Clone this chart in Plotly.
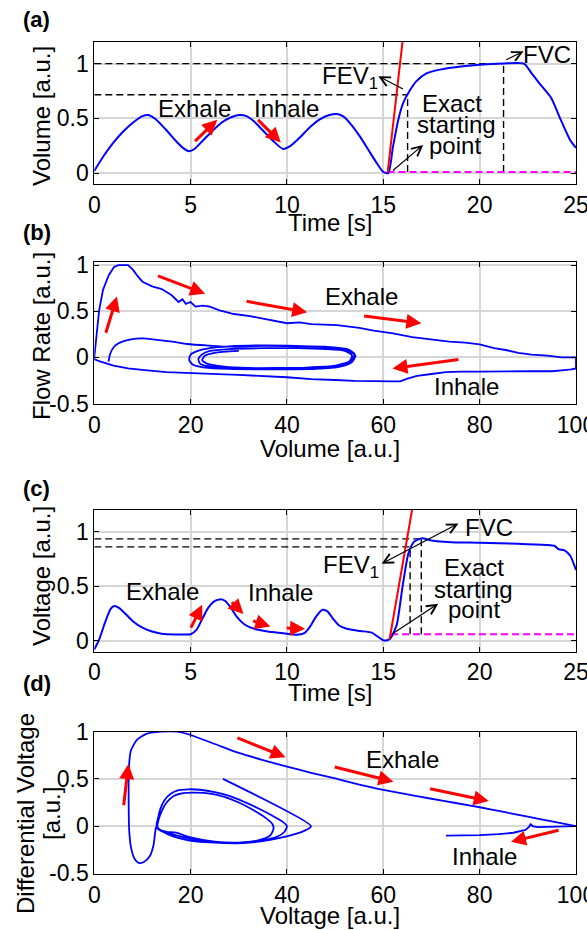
import plotly.graph_objects as go

W, H = 587, 930
FONT = "Liberation Sans, Arial, sans-serif"

# ---------------- (a) Volume vs time ----------------
a_time = [0, 0.5, 1, 1.5, 2, 2.5, 2.8, 3.2, 3.7, 4.2, 4.6, 4.9, 5.2, 5.6, 6.1, 6.6, 7.1, 7.5,
          7.9, 8.3, 8.8, 9.3, 9.8, 10.2, 10.7, 11.2, 11.7, 12.2, 12.6, 12.9, 13.3, 13.8, 14.3,
          14.7, 15.0, 15.26, 15.5, 15.78, 16.03, 16.29, 16.72, 17.24, 17.93, 19.14, 20.0, 21.2,
          22.3, 22.7, 23.1, 23.7, 24.2, 24.7, 25.0]
a_volume = [0.02, 0.16, 0.28, 0.38, 0.46, 0.52, 0.53, 0.49, 0.40, 0.30, 0.23, 0.20, 0.22, 0.29,
            0.38, 0.46, 0.51, 0.53, 0.52, 0.47, 0.38, 0.29, 0.22, 0.25, 0.33, 0.42, 0.49, 0.53,
            0.54, 0.52, 0.45, 0.33, 0.19, 0.08, 0.01, 0.0, 0.24, 0.49, 0.64, 0.73, 0.84, 0.91,
            0.945, 0.976, 0.99, 1.0, 1.0, 0.91, 0.82, 0.69, 0.49, 0.30, 0.23]
a_fit_time = [15.22, 16.0]
a_fit_volume = [0.0, 1.205]
a_fev1_time, a_fev1_level = 16.26, 0.716
a_fvc_time, a_fvc_level = 21.24, 1.0
a_start_time, a_base_level = 15.22, 0.01
a_red_arrows = [((5.15, 0.278), (6.38, 0.486)), ((8.42, 0.50), (9.68, 0.278))]

# ---------------- (b) Flow rate vs volume ----------------
b_exh_vol = [0, 0.3, 0.6, 1.0, 1.8, 3.0, 4.1, 5.0, 7.0, 8.0, 9.0, 10.0, 12.0, 14.0, 16.0, 17.5,
             18.3, 19.0, 20.0, 21.0, 22.5, 24.0, 26.0, 29.0, 32.0, 34.8, 38.0, 40.0, 42.6, 45.0,
             50.4, 55.0, 58.0, 62.0, 66.0, 70.0, 73.7, 77.0, 80.0, 83.0, 85.4, 88.0, 90.8, 94.0,
             97.0, 100.0, 100.0]
b_exh_flow = [0, 0.15, 0.3, 0.51, 0.73, 0.89, 0.98, 1.0, 1.0, 0.95, 0.88, 0.82, 0.77, 0.74, 0.675,
              0.6, 0.63, 0.58, 0.6, 0.55, 0.56, 0.55, 0.51, 0.47, 0.45, 0.42, 0.39, 0.37, 0.38,
              0.36, 0.35, 0.32, 0.29, 0.26, 0.22, 0.19, 0.17, 0.16, 0.14, 0.1, 0.08, 0.05, 0.03,
              0.02, 0.0, 0.0, -0.12]
b_inh_vol = [100, 99, 97, 95, 90, 85, 80, 76, 73, 70, 67, 65, 63.5, 62, 58, 54, 50, 45, 40, 35,
             30, 27, 24, 20, 15, 11, 7, 4, 2, 1, 0, 0]
b_inh_flow = [-0.12, -0.13, -0.14, -0.15, -0.15, -0.155, -0.155, -0.155, -0.16, -0.18, -0.2,
              -0.23, -0.26, -0.26, -0.26, -0.255, -0.245, -0.235, -0.215, -0.2, -0.19, -0.185,
              -0.18, -0.17, -0.16, -0.14, -0.12, -0.09, -0.06, -0.04, -0.02, 0.0]
b_tid_vol = [2.95, 3.3, 4.1, 5.3, 7.6, 10, 13, 16.2, 19.3, 24, 27, 35, 42, 48, 52, 54.2, 53.5, 51,
             46, 40, 34, 28, 23, 20.5, 19.7, 20, 21.5, 24, 28, 35, 42, 48, 52.5, 54, 53.5, 51,
             46, 40, 34, 28, 24, 22, 21.6, 22.3, 24, 28, 35, 42, 48, 52, 53.5, 53, 50, 44, 38,
             32, 27, 23.5, 22.4, 23, 25, 30]
b_tid_flow = [-0.047, 0.04, 0.115, 0.16, 0.195, 0.205, 0.19, 0.17, 0.145, 0.126, 0.116, 0.125,
              0.12, 0.11, 0.08, 0.02, -0.05, -0.1, -0.125, -0.13, -0.13, -0.125, -0.11, -0.08,
              -0.03, 0.03, 0.07, 0.1, 0.12, 0.13, 0.125, 0.115, 0.09, 0.04, -0.03, -0.08, -0.11,
              -0.12, -0.12, -0.115, -0.1, -0.07, -0.02, 0.03, 0.07, 0.09, 0.1, 0.1, 0.09, 0.07,
              0.02, -0.04, -0.09, -0.11, -0.115, -0.115, -0.1, -0.07, -0.03, 0.02, 0.05, 0.07]
b_red_arrows = [((2.3, 0.25), (4.7, 0.66)), ((12.9, 0.89), (23.0, 0.69)),
                ((31.3, 0.61), (44.2, 0.49)), ((55.7, 0.45), (67.9, 0.37)),
                ((75.9, -0.02), (61.9, -0.12))]

# ---------------- (c) Voltage vs time ----------------
c_time = [0, 0.25, 0.54, 0.84, 1.03, 1.3, 1.6, 2.0, 2.5, 3.0, 3.5, 4.2, 4.8, 5.0, 5.3, 5.6, 5.9,
          6.2, 6.5, 6.8, 7.1, 7.4, 7.8, 8.3, 9.0, 9.8, 10.5, 10.9, 11.2, 11.5, 11.85, 12.1, 12.4,
          12.7, 13.1, 13.8, 14.4, 14.7, 15.0, 15.2, 15.4, 15.7, 16.0, 16.3, 16.6, 17.0, 17.5,
          18.5, 20.0, 22.0, 23.5, 23.9, 24.1, 24.4, 24.7, 25.0]
c_voltage = [-0.08, 0.01, 0.16, 0.29, 0.32, 0.30, 0.25, 0.18, 0.12, 0.085, 0.065, 0.058, 0.058,
             0.06, 0.1, 0.2, 0.3, 0.36, 0.38, 0.365, 0.3, 0.22, 0.15, 0.11, 0.085, 0.07, 0.055,
             0.07, 0.13, 0.22, 0.285, 0.27, 0.2, 0.14, 0.11, 0.09, 0.075, 0.04, 0.005, 0.005,
             0.03, 0.15, 0.5, 0.8, 0.91, 0.94, 0.92, 0.905, 0.9, 0.89, 0.88, 0.87, 0.84, 0.83,
             0.78, 0.65]
c_fit_time = [15.32, 16.49]
c_fit_voltage = [0.01, 1.2]
c_fev1_time, c_fev1_level = 16.39, 0.862
c_fvc_time, c_fvc_level = 16.97, 0.935
c_start_time, c_base_level = 15.4, 0.061
c_red_arrows = [((4.98, 0.107), (5.6, 0.33)), ((7.06, 0.368), (7.74, 0.245)),
                ((8.16, 0.187), (9.14, 0.132)), ((9.91, 0.117), (10.94, 0.11))]

# ---------------- (d) Differential voltage vs voltage ----------------
d_loop_v = [26.7, 45, 44, 42, 39, 35, 31, 27, 23, 19.5, 17, 15, 13.5, 12.9, 13.2, 13.7, 14.5,
            15.8, 17.5, 19.5, 22, 25, 28, 31, 34, 37, 39, 40, 39.5, 38, 35, 31, 27, 23, 19.5,
            16.5, 14, 13.1, 13.3, 14, 15, 16.5, 18.5, 21, 24, 27, 30, 33, 35.5, 37, 37.2, 36.5,
            34, 30, 25, 20, 17, 15, 13.5, 12.8]
d_loop_dv = [0.5, 0.0, -0.04, -0.08, -0.12, -0.16, -0.18, -0.18, -0.17, -0.15, -0.12, -0.08,
             -0.04, 0.0, 0.08, 0.18, 0.27, 0.34, 0.38, 0.39, 0.385, 0.36, 0.32, 0.26, 0.19, 0.11,
             0.05, 0.0, -0.06, -0.11, -0.15, -0.175, -0.18, -0.165, -0.13, -0.09, -0.05, -0.01,
             0.06, 0.16, 0.25, 0.32, 0.35, 0.355, 0.345, 0.31, 0.25, 0.17, 0.09, 0.02, -0.03,
             -0.1, -0.15, -0.175, -0.165, -0.12, -0.07, -0.06, -0.04, -0.01]
d_exh_v = [12.8, 12.6, 12.3, 11.5, 10.3, 9.2, 8.3, 7.6, 7.25, 7.15, 7.2, 7.6, 8.8, 10.7, 13.8,
           17.3, 20, 25, 30, 35, 40, 45, 50, 55, 60, 65, 70, 75, 80, 85, 90, 95, 100]
d_exh_dv = [-0.01, -0.08, -0.2, -0.32, -0.38, -0.39, -0.34, -0.22, -0.05, 0.15, 0.63, 0.8, 0.91,
            0.975, 1.0, 1.0, 0.965, 0.87, 0.775, 0.70, 0.63, 0.565, 0.505, 0.44, 0.385, 0.335,
            0.29, 0.245, 0.2, 0.15, 0.10, 0.05, 0.0]
d_inh_v = [100, 97, 94, 92, 91, 90.6, 90.2, 89.5, 87, 84, 80, 76, 73]
d_inh_dv = [0.0, -0.005, -0.01, -0.01, 0.0, 0.02, -0.01, -0.04, -0.07, -0.085, -0.095, -0.1, -0.1]
d_red_arrows = [((6.07, 0.205), (7.08, 0.657)), ((29.4, 0.94), (39.7, 0.73)),
                ((49.6, 0.63), (62.1, 0.47)), ((69.4, 0.40), (81.9, 0.265)),
                ((96.7, -0.04), (86.5, -0.166))]

# ---------------- layout helpers ----------------
BLUE = "blue"
PANELS = {  # pixel boxes (left, right, top, bottom)
    1: (94.3, 576.0, 41.7, 184.0),
    2: (94.3, 576.0, 262.3, 404.0),
    3: (94.3, 576.0, 510.0, 651.7),
    4: (94.3, 576.0, 731.7, 874.0),
}


def px(xp):
    return xp / W


def py(yp):
    return 1 - yp / H


fig = go.Figure()


def ref(i):
    return ("x", "y") if i == 1 else (f"x{i}", f"y{i}")


def line(i, xs, ys, color, width, dash=None, shape="linear"):
    xr, yr = ref(i)
    fig.add_trace(go.Scatter(x=xs, y=ys, mode="lines", xaxis=xr, yaxis=yr,
                             line=dict(color=color, width=width, dash=dash, shape=shape,
                                       smoothing=0.6 if shape == "spline" else None),
                             hoverinfo="skip", showlegend=False))


DASH = "7px,4px"

# (a)
line(1, [0, a_fvc_time], [a_fvc_level, a_fvc_level], "black", 1.4, DASH)
line(1, [a_fvc_time, a_fvc_time], [a_base_level, a_fvc_level], "black", 1.4, DASH)
line(1, [0, a_fev1_time], [a_fev1_level, a_fev1_level], "black", 1.4, DASH)
line(1, [a_fev1_time, a_fev1_time], [a_base_level, a_fev1_level], "black", 1.4, DASH)
line(1, [a_start_time, 25], [a_base_level, a_base_level], "magenta", 2, DASH)
line(1, a_time, a_volume, BLUE, 2, shape="spline")
line(1, a_fit_time, a_fit_volume, "red", 2)

# (b)
line(2, b_tid_vol, b_tid_flow, BLUE, 1.8, shape="spline")
line(2, b_inh_vol, b_inh_flow, BLUE, 1.8)
line(2, b_exh_vol, b_exh_flow, BLUE, 1.8)

# (c)
line(3, [0, c_fvc_time], [c_fvc_level, c_fvc_level], "black", 1.4, DASH)
line(3, [c_fvc_time, c_fvc_time], [c_base_level, c_fvc_level], "black", 1.4, DASH)
line(3, [0, c_fev1_time], [c_fev1_level, c_fev1_level], "black", 1.4, DASH)
line(3, [c_fev1_time, c_fev1_time], [c_base_level, c_fev1_level], "black", 1.4, DASH)
line(3, [c_start_time, 25], [c_base_level, c_base_level], "magenta", 2, DASH)
line(3, c_time, c_voltage, BLUE, 2, shape="spline")
line(3, c_fit_time, c_fit_voltage, "red", 2)

# (d)
line(4, d_loop_v, d_loop_dv, BLUE, 1.8, shape="spline")
line(4, d_exh_v, d_exh_dv, BLUE, 1.8, shape="spline")
line(4, d_inh_v, d_inh_dv, BLUE, 1.8)

# ---------------- axes ----------------
TICKFONT = dict(family=FONT, size=23, color="black")


def axis_common():
    return dict(showline=True, linecolor="black", linewidth=1, mirror="ticks",
                ticks="inside", ticklen=5, tickcolor="black", tickwidth=1,
                showgrid=True, gridcolor="#d6d6d6", gridwidth=1.5, zeroline=False,
                tickfont=TICKFONT, fixedrange=True, ticklabeloverflow="allow",
                automargin=False)


x_specs = {
    1: ([0, 25], [0, 5, 10, 15, 20, 25]),
    2: ([0, 100], [0, 20, 40, 60, 80, 100]),
    3: ([0, 25], [0, 5, 10, 15, 20, 25]),
    4: ([0, 100], [0, 20, 40, 60, 80, 100]),
}
y_specs = {
    1: ([-0.1, 1.2], [0, 0.5, 1], ["0", "0.5", "1"]),
    2: ([-0.505, 1.03], [-0.5, 0, 0.5, 1], ["-0.5", "0", "0.5", "1"]),
    3: ([-0.1, 1.2], [0, 0.5, 1], ["0", "0.5", "1"]),
    4: ([-0.507, 1.0], [-0.5, 0, 0.5, 1], ["-0.5", "0", "0.5", "1"]),
}
layout_axes = {}
for i, (l, r, t, b) in PANELS.items():
    xname = "xaxis" if i == 1 else f"xaxis{i}"
    yname = "yaxis" if i == 1 else f"yaxis{i}"
    xr, yr = ref(i)
    xa = axis_common()
    xa.update(domain=[px(l), px(r)], range=x_specs[i][0], tickvals=x_specs[i][1],
              ticktext=[str(v) for v in x_specs[i][1]], anchor=yr)
    ya = axis_common()
    ya.update(domain=[py(b), py(t)], range=y_specs[i][0], tickvals=y_specs[i][1],
              ticktext=y_specs[i][2], anchor=xr)
    layout_axes[xname] = xa
    layout_axes[yname] = ya

fig.update_layout(width=W, height=H, margin=dict(l=0, r=0, t=0, b=0, autoexpand=False),
                  paper_bgcolor="white", plot_bgcolor="white", showlegend=False,
                  font=dict(family=FONT, size=24, color="black"), **layout_axes)

# ---------------- annotations ----------------
ann = []
TXT = dict(family=FONT, size=24, color="black")


def text(i, x, y, s, **kw):
    xr, yr = ref(i)
    d = dict(x=x, y=y, xref=xr, yref=yr, text=s, showarrow=False, font=TXT,
             xanchor="center", yanchor="middle")
    d.update(kw)
    ann.append(d)


def arrow(i, tail, head, color="red", width=3, head_style=2, size=1.0, side="end"):
    xr, yr = ref(i)
    ann.append(dict(x=head[0], y=head[1], ax=tail[0], ay=tail[1], xref=xr, yref=yr,
                    axref=xr, ayref=yr, text="", showarrow=True, arrowhead=head_style,
                    startarrowhead=head_style, arrowside=side,
                    arrowsize=size, startarrowsize=size, arrowwidth=width, arrowcolor=color))


def ptext(xp, yp, s, **kw):
    d = dict(x=px(xp), y=py(yp), xref="paper", yref="paper", text=s, showarrow=False,
             font=TXT, xanchor="center", yanchor="middle")
    d.update(kw)
    ann.append(d)


# panel labels
for lab, yp in (("(a)", 20), ("(b)", 233), ("(c)", 488), ("(d)", 683)):
    ptext(37, yp, f"<b>{lab}</b>", font=dict(family=FONT, size=22, color="black"))

# axis titles
ptext(330, 222, "Time [s]")
ptext(330, 448, "Volume [a.u.]")
ptext(330, 692, "Time [s]")
ptext(330, 915, "Voltage [a.u.]")
ptext(41, 116, "Volume [a.u.]", textangle=-90)
ptext(41, 336, "Flow Rate [a.u.]", textangle=-90)
ptext(41, 576, "Voltage [a.u.]", textangle=-90)
ptext(25, 814, "Differential Voltage", textangle=-90)
ptext(51, 814, "[a.u.]", textangle=-90)

# (a)
text(1, 5.21, 0.593, "Exhale")
text(1, 9.97, 0.593, "Inhale")
text(1, 13.28, 0.869, "FEV<sub>1</sub>")
text(1, 23.52, 1.082, "FVC")
text(1, 18.58, 0.633, "Exact")
text(1, 18.8, 0.44, "starting")
text(1, 18.72, 0.25, "point")
for t, h in a_red_arrows:
    arrow(1, t, h)
arrow(1, (16.1, 0.761), (14.74, 0.884), color="black", width=1.2, head_style=5, size=1.6)
arrow(1, (21.3, 1.028), (22.28, 1.113), color="black", width=1.2, head_style=5, size=1.6)
arrow(1, (15.42, 0.012), (17.07, 0.257), color="black", width=1.2, head_style=5, size=1.6)

# (b)
text(2, 55.4, 0.66, "Exhale")
text(2, 77.2, -0.32, "Inhale")
for t, h in b_red_arrows:
    arrow(2, t, h)

# (c)
text(3, 3.56, 0.454, "Exhale")
text(3, 9.68, 0.44, "Inhale")
text(3, 13.3, 0.684, "FEV<sub>1</sub>")
text(3, 20.5, 1.037, "FVC")
text(3, 19.7, 0.67, "Exact")
text(3, 19.7, 0.475, "starting")
text(3, 19.7, 0.285, "point")
for t, h in c_red_arrows:
    arrow(3, t, h)
arrow(3, (14.83, 0.70), (18.9, 1.077), color="black", width=1.2, head_style=5, size=1.6,
      side="end+start")
arrow(3, (15.4, 0.055), (17.85, 0.34), color="black", width=1.2, head_style=5, size=1.6)

# (d)
text(4, 64.0, 0.707, "Exhale")
text(4, 81.1, -0.325, "Inhale")
for t, h in d_red_arrows:
    arrow(4, t, h)

fig.update_layout(annotations=ann)
fig.write_html("out.html")
